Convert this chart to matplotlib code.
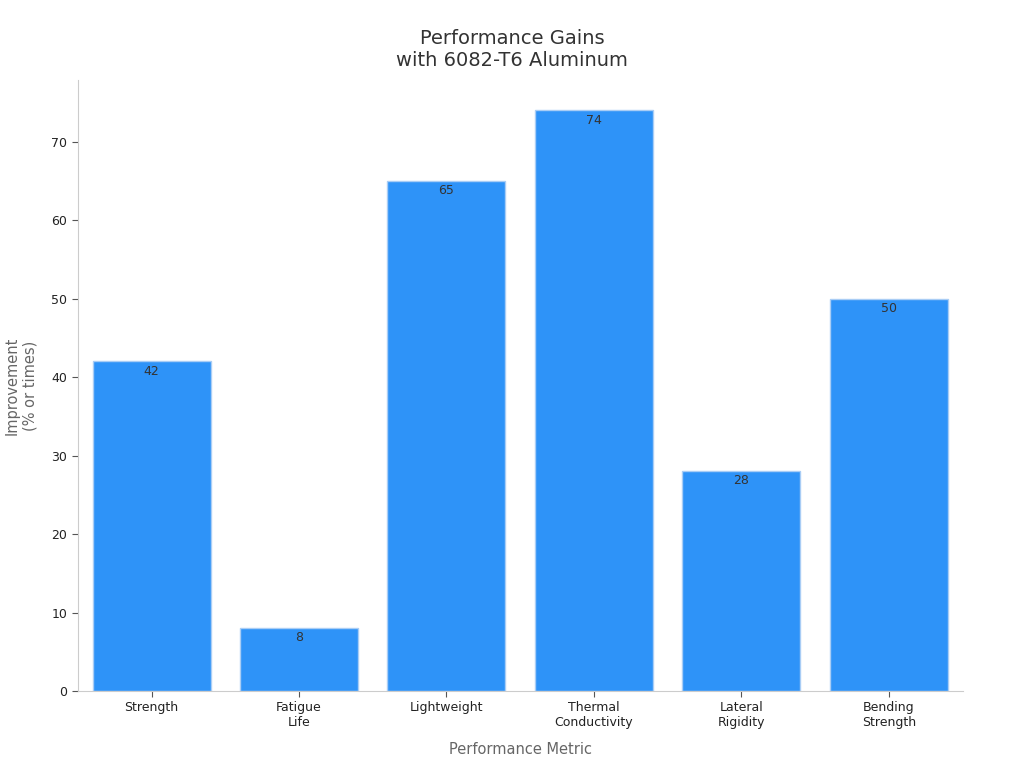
import matplotlib
matplotlib.use("Agg")
import matplotlib.pyplot as plt

metrics = ["Strength", "Fatigue\nLife", "Lightweight", "Thermal\nConductivity",
           "Lateral\nRigidity", "Bending\nStrength"]
gains = [42, 8, 65, 74, 28, 50]

fig = plt.figure(figsize=(10.24, 7.68), dpi=100)
ax = fig.add_axes([0.076, 0.1003, 0.864, 0.7957])

x = range(len(metrics))
bars = ax.bar(x, gains, width=0.8, color="#2E93F8", edgecolor="#a9cdf5", linewidth=1)
for b, v in zip(bars, gains):
    ax.text(b.get_x() + b.get_width() / 2, v - 0.4, str(v), ha="center", va="top",
            fontsize=9, color="#333333")

ax.set_xlim(-0.5, 5.5)
ax.set_ylim(0, 77.9)
ax.set_xticks(list(x))
ax.set_xticklabels(metrics, fontsize=9, color="#222222")
ax.set_yticks([0, 10, 20, 30, 40, 50, 60, 70])
ax.tick_params(axis="y", labelsize=9, colors="#222222")
ax.tick_params(axis="both", color="#555555", length=4)
for s in ["top", "right"]:
    ax.spines[s].set_visible(False)
for s in ["left", "bottom"]:
    ax.spines[s].set_color("#cccccc")

ax.set_xlabel("Performance Metric", fontsize=10.5, color="#666666", labelpad=9)
ax.set_ylabel("Improvement\n(% or times)", fontsize=10.5, color="#666666", labelpad=10)
ax.set_title("Performance Gains\nwith 6082-T6 Aluminum", fontsize=14, color="#333333",
             pad=10, x=0.4907)

fig.savefig("out.png", dpi=100)
